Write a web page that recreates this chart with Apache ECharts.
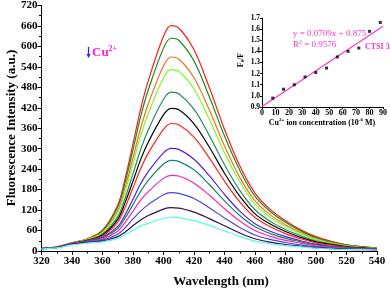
<!DOCTYPE html>
<html><head><meta charset="utf-8">
<script src="https://cdn.jsdelivr.net/npm/echarts@6/dist/echarts.min.js"></script>
<style>html,body{margin:0;padding:0;background:#fff}#c{width:390px;height:289px}</style>
</head><body><div id="c"></div>
<script>
var wavelengths = [320,330,340,350,360,370,375,380,385,390,400,405,410,420,430,440,450,460,470,480,490,500,510,520,530,540];
var s1  = [7,12,24,36,61,135,216,314,416,499,630,661,654,590,480,357,250,170,122,89,62,42,28,18,13,9];
var s2  = [7,12,24,35,59,129,205,297,394,472,595,624,618,557,453,337,237,160,116,84,59,39,27,18,12,8];
var s3  = [7,12,24,34,56,119,189,273,360,431,543,569,563,508,414,308,216,147,106,77,54,36,25,16,11,8];
var s4  = [7,12,23,34,54,113,178,256,338,403,508,532,527,475,387,288,203,137,99,72,51,34,23,15,10,7];
var s5  = [7,11,23,32,50,101,158,226,297,355,445,466,461,416,339,253,178,121,87,63,45,30,21,14,9,7];
var s6  = [7,11,22,31,47,93,144,205,268,319,399,418,414,373,305,228,161,109,79,57,40,27,19,12,9,6];
var s7  = [7,11,22,30,44,85,130,185,241,287,357,374,370,334,273,205,144,98,71,51,36,24,17,11,8,6];
var s8  = [7,11,21,29,40,72,108,152,197,233,288,301,298,269,221,166,117,80,58,42,30,20,14,9,7,5];
var s9  = [7,11,21,28,38,66,98,136,175,207,255,266,263,238,195,147,104,71,51,37,27,18,13,9,6,5];
var s10 = [7,11,21,27,35,58,85,117,149,174,213,222,220,199,164,124,88,60,43,31,23,15,11,8,6,4];
var s11 = [7,10,20,26,32,49,69,94,117,136,165,171,169,154,127,97,69,47,34,25,18,12,9,6,5,4];
var s12 = [7,10,20,25,29,42,56,74,91,104,123,127,126,114,95,74,53,36,26,19,14,9,7,5,4,3];
var s13 = [6,9,18,23,27,37,48,61,73,81,96,99,98,89,75,59,43,29,21,16,12,8,6,4,4,3];
var seriesValues = [s1,s2,s3,s4,s5,s6,s7,s8,s9,s10,s11,s12,s13];
var seriesColors = ['#ff1a1a','#1a8a1a','#ff6a22','#77ff22','#2a8a62','#000000','#ff2020','#5522cc','#1a8070','#ff22aa','#4a44dd','#331155','#55ffe0'];
var yTicks = {min:0, max:720, interval:60};
var xTicks = {min:320, max:540, interval:20};
var concX = [8,16,24,32,40,48,56,64,72,80,88];
var f0f   = [0.98,1.06,1.10,1.17,1.21,1.25,1.35,1.40,1.43,1.58,1.66];
var fitX = [0,90];
var fitY = [0.905,1.625];

var FONT = 'Liberation Serif, Times New Roman, serif';
var series = seriesValues.map(function(v,i){
  return {type:'line', xAxisIndex:0, yAxisIndex:0, smooth:0.35, symbol:'none',
    lineStyle:{width:1.2,color:seriesColors[i]}, itemStyle:{color:seriesColors[i]},
    data: wavelengths.map(function(w,j){return [w,v[j]];}), z: 2+i};
});
series.push({type:'line', xAxisIndex:1, yAxisIndex:1, symbol:'none',
  lineStyle:{width:1.2,color:'#ff33cc'}, data: fitX.map(function(x,i){return [x,fitY[i]];}), z:20});
series.push({type:'scatter', xAxisIndex:1, yAxisIndex:1, symbol:'rect', symbolSize:3,
  itemStyle:{color:'#000'}, data: concX.map(function(x,i){return [x,f0f[i]];}), z:21});

var axLine = {show:true, lineStyle:{color:'#000',width:1}};
var option = {
  animation:false,
  grid:[{left:41.5, right:13, top:5, bottom:38},
        {left:262, right:6, top:18, bottom:182}],
  xAxis:[
    {type:'value', gridIndex:0, min:xTicks.min, max:xTicks.max, interval:xTicks.interval,
     axisLine:axLine, axisTick:{show:true,length:4,lineStyle:{color:'#000'}},
     minorTick:{show:true,splitNumber:2,length:2.5,lineStyle:{color:'#000'}},
     splitLine:{show:false},
     axisLabel:{fontFamily:FONT,fontWeight:'bold',fontSize:11,color:'#000',margin:5}},
    {type:'value', gridIndex:1, min:0, max:90, interval:10,
     axisLine:axLine, axisTick:{show:true,length:2,lineStyle:{color:'#000'}},
     splitLine:{show:false},
     axisLabel:{fontFamily:FONT,fontWeight:'bold',fontSize:8,color:'#000',margin:2}}
  ],
  yAxis:[
    {type:'value', gridIndex:0, min:yTicks.min, max:yTicks.max, interval:yTicks.interval,
     axisLine:axLine, axisTick:{show:true,length:4,lineStyle:{color:'#000'}},
     minorTick:{show:true,splitNumber:2,length:2.5,lineStyle:{color:'#000'}},
     splitLine:{show:false},
     axisLabel:{fontFamily:FONT,fontWeight:'bold',fontSize:11,color:'#000',margin:4}},
    {type:'value', gridIndex:1, min:0.9, max:1.7, interval:0.1,
     axisLine:axLine, axisTick:{show:true,length:2,lineStyle:{color:'#000'}},
     splitLine:{show:false},
     axisLabel:{fontFamily:FONT,fontWeight:'bold',fontSize:7.5,color:'#000',margin:2,
       formatter:function(v){return v.toFixed(1);}}}
  ],
  series:series,
  graphic:[
    {type:'text', x:221, y:282, style:{text:'Wavelength (nm)', align:'center', verticalAlign:'middle',
      font:'bold 13px '+FONT, fill:'#000'}},
    {type:'text', x:12, y:128, rotation:Math.PI/2, style:{text:'Fluorescence Intensity (a.u.)', align:'center', verticalAlign:'middle',
      font:'bold 13px '+FONT, fill:'#000'}},
    {type:'line', shape:{x1:88.5, y1:47, x2:88.5, y2:57}, style:{stroke:'#4422cc', lineWidth:1.3}},
    {type:'polygon', shape:{points:[[86.5,54],[90.5,54],[88.5,58]]}, style:{fill:'#4422cc'}},
    {type:'text', x:92, y:53, style:{text:'{cu|Cu}{sp|2+}', verticalAlign:'middle',
      rich:{cu:{fill:'#ff22cc',font:'bold 13px '+FONT},
            sp:{fill:'#ff22cc',font:'bold 8px '+FONT,verticalAlign:'top',padding:[0,0,8,0]}}}},
    {type:'text', x:293, y:34, style:{text:'y = 0.0709x + 0.875', verticalAlign:'middle', font:'9px '+FONT, fill:'#ff33cc'}},
    {type:'text', x:293, y:44.5, style:{text:'{a|R}{s|2}{a| = 0.9576}', verticalAlign:'middle',
      rich:{a:{font:'9px '+FONT,fill:'#ff33cc'},s:{font:'6px '+FONT,fill:'#ff33cc',padding:[0,0,5,0]}}}},
    {type:'text', x:365, y:46.5, style:{text:'CTSI 3', verticalAlign:'middle', font:'bold 8px '+FONT, fill:'#ff33cc'}},
    {type:'text', x:322, y:122.5, style:{text:'{a|Cu}{s|2+}{a| ion concentration (10}{s|-6}{a| M)}', align:'center', verticalAlign:'middle',
      rich:{a:{font:'bold 8px '+FONT,fill:'#000'},s:{font:'bold 5px '+FONT,fill:'#000',padding:[0,0,5,0]}}}},
    {type:'text', x:241, y:60, rotation:Math.PI/2, style:{text:'{a|F}{s|0}{a|/F}', align:'center', verticalAlign:'middle',
      rich:{a:{font:'bold 8px '+FONT,fill:'#000'},s:{font:'bold 5px '+FONT,fill:'#000',padding:[4,0,0,0]}}}}
  ]
};
var chart = echarts.init(document.getElementById('c'), null, {renderer:'canvas'});
chart.setOption(option);
</script></body></html>
